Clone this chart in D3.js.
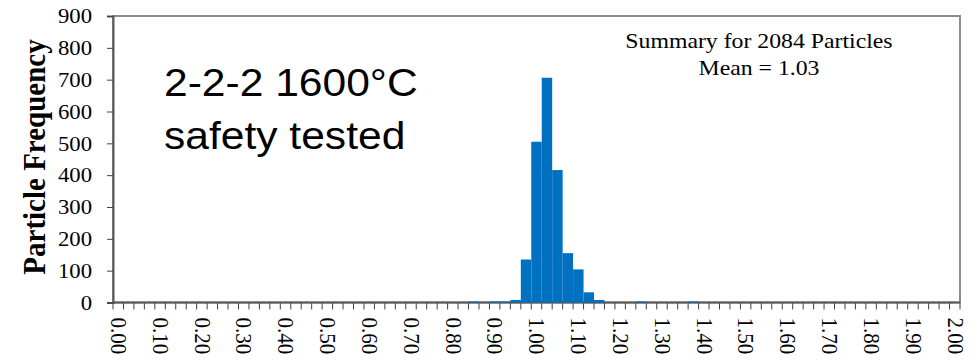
<!DOCTYPE html>
<html>
<head>
<meta charset="utf-8">
<title>Particle Frequency</title>
<script src="https://d3js.org/d3.v7.min.js"></script>
<style>
  body { margin: 0; background: #fff; }
  svg { display: block; }
  .serif { font-family: "Liberation Serif", "Times New Roman", serif; fill: #000; }
  .sans { font-family: "Liberation Sans", Arial, sans-serif; fill: #000; }
</style>
</head>
<body>
<div id="chart"></div>
<script>
// histogram bins, 0.025 wide, 0.000 .. 2.000 (81 categories)
var binStarts = d3.range(81).map(function(i) { return +(i * 0.025).toFixed(3); });

var counts = [
  0, 0, 0, 0, 0, 0, 0, 0, 0, 0,
  0, 0, 0, 0, 0, 0, 0, 0, 0, 0,
  0, 0, 0, 0, 0, 0, 0, 0, 0, 0,
  0, 0, 0, 0, 3, 0, 3, 3, 8, 135,
  505, 706, 416, 155, 104, 32, 8, 0, 0, 0,
  3, 0, 0, 0, 0, 3, 0, 0, 0, 0,
  0, 0, 0, 0, 0, 0, 0, 0, 0, 0,
  0, 0, 0, 0, 0, 0, 0, 0, 0, 0,
  0
];

var xTickLabels = ["0.00","0.10","0.20","0.30","0.40","0.50","0.60","0.70","0.80","0.90","1.00",
                   "1.10","1.20","1.30","1.40","1.50","1.60","1.70","1.80","1.90","2.00"];
var yTicks = [0, 100, 200, 300, 400, 500, 600, 700, 800, 900];

var width = 979, height = 361;
var plot = { left: 113, right: 960, top: 16, bottom: 302.5 };

// the original picture is a little wider than tall, stretch text to match
function widen(sel, k) {
  sel.each(function() {
    var w = this.getComputedTextLength();
    d3.select(this).attr("textLength", w * k).attr("lengthAdjust", "spacingAndGlyphs");
  });
}

var svg = d3.select("#chart").append("svg")
    .attr("width", width)
    .attr("height", height);

var x = d3.scaleBand()
    .domain(binStarts)
    .range([plot.left, plot.right])
    .paddingInner(0).paddingOuter(0);

var y = d3.scaleLinear()
    .domain([0, 900])
    .range([plot.bottom, plot.top]);

// plot area border
svg.append("rect")
    .attr("x", plot.left).attr("y", plot.top)
    .attr("width", plot.right - plot.left)
    .attr("height", plot.bottom - plot.top)
    .style("fill", "none")
    .style("stroke", "#8c8c8c")
    .style("stroke-width", 2);

// y axis
var yAxis = svg.append("g")
    .attr("transform", "translate(" + plot.left + ",0)")
    .call(d3.axisLeft(y).tickValues(yTicks).tickSize(6).tickPadding(15));
yAxis.select(".domain").style("stroke", "#595959").style("stroke-width", 2);
yAxis.selectAll(".tick line").style("stroke", "#404040");
yAxis.selectAll("text")
    .attr("class", "serif")
    .style("font-size", "21px")
    .style("font-family", "Liberation Serif")
    .call(widen, 1.08);

// x axis: tick at every bin edge, label on every 4th bin
var edges = binStarts.map(function(d) { return x(d); }).concat([plot.right]);
svg.append("g").selectAll("line")
    .data(edges).enter().append("line")
    .attr("x1", function(d) { return d; }).attr("x2", function(d) { return d; })
    .attr("y1", plot.bottom).attr("y2", plot.bottom + 7)
    .style("stroke", "#404040");

svg.append("g").selectAll("text")
    .data(xTickLabels).enter().append("text")
    .attr("class", "serif")
    .style("font-size", "21px")
    .attr("text-anchor", "start")
    .attr("dominant-baseline", "central")
    .attr("transform", function(d, i) {
      var b = binStarts[i * 4];
      return "translate(" + (x(b) + x.bandwidth() / 2) + "," + (plot.bottom + 15) + ") rotate(90) scale(1,1.08)";
    })
    .text(function(d) { return d; });

svg.append("line")
    .attr("x1", plot.left).attr("x2", plot.right)
    .attr("y1", plot.bottom).attr("y2", plot.bottom)
    .style("stroke", "#595959").style("stroke-width", 2);

// bars
svg.append("g").selectAll("rect")
    .data(counts).enter().append("rect")
    .attr("x", function(d, i) { return x(binStarts[i]); })
    .attr("y", function(d) { return y(d); })
    .attr("width", x.bandwidth())
    .attr("height", function(d) { return y(0) - y(d); })
    .style("fill", "#0070c0");

// y title
svg.append("text")
    .attr("class", "serif")
    .attr("transform", "translate(45,157) rotate(-90) scale(1,1.1)")
    .attr("text-anchor", "middle")
    .style("font-size", "29px")
    .style("font-weight", "bold")
    .text("Particle Frequency");

// annotations
svg.append("text").attr("class", "sans")
    .attr("x", 164).attr("y", 96)
    .style("font-size", "38px")
    .text("2-2-2 1600°C")
    .call(widen, 1.12);
svg.append("text").attr("class", "sans")
    .attr("x", 164).attr("y", 149)
    .style("font-size", "38px")
    .text("safety tested")
    .call(widen, 1.12);

svg.append("text").attr("class", "serif")
    .attr("x", 759).attr("y", 48)
    .attr("text-anchor", "middle")
    .style("font-size", "22px")
    .text("Summary for 2084 Particles")
    .call(widen, 1.08);
svg.append("text").attr("class", "serif")
    .attr("x", 759).attr("y", 75)
    .attr("text-anchor", "middle")
    .style("font-size", "22px")
    .text("Mean = 1.03")
    .call(widen, 1.08);
</script>
</body>
</html>
